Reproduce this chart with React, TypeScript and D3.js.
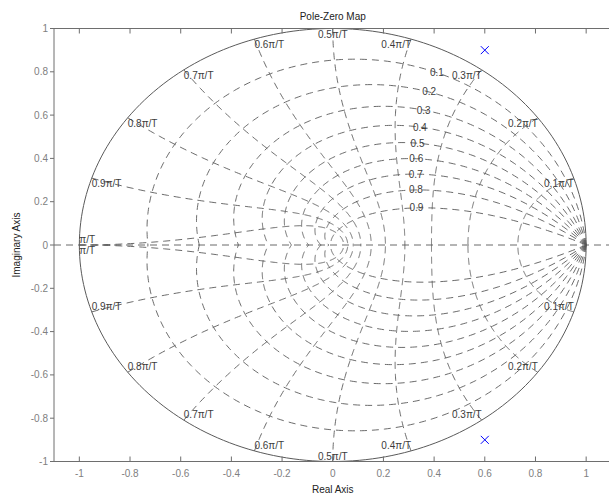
import React from 'react';
import * as d3 from 'd3';

// ---- data ----
const xTicks = [-1, -0.8, -0.6, -0.4, -0.2, 0, 0.2, 0.4, 0.6, 0.8, 1];
const yTicks = [-1, -0.8, -0.6, -0.4, -0.2, 0, 0.2, 0.4, 0.6, 0.8, 1];
const zetaValues = [0.1, 0.2, 0.3, 0.4, 0.5, 0.6, 0.7, 0.8, 0.9];
const wnFactors = [0.1, 0.2, 0.3, 0.4, 0.5, 0.6, 0.7, 0.8, 0.9, 1.0];
const wnLabels = ['0.1\u03c0/T', '0.2\u03c0/T', '0.3\u03c0/T', '0.4\u03c0/T', '0.5\u03c0/T', '0.6\u03c0/T', '0.7\u03c0/T', '0.8\u03c0/T', '0.9\u03c0/T', '\u03c0/T'];
const zetaLabelWn = 0.35; // wn (x pi) at which damping labels sit
const poleRe = [0.6, 0.6];
const poleIm = [0.9, -0.9];
const xDomain = [-1.1, 1.1];
const yDomain = [-1, 1];

const W = 609;
const H = 498;
const L = 54, R = 611.5, T = 28.5, B = 461.5;
const FONT = '"Liberation Sans", Arial, sans-serif';

export default function App() {
  const x = d3.scaleLinear().domain(xDomain).range([L, R]);
  const y = d3.scaleLinear().domain(yDomain).range([B, T]);
  const line = d3.line<[number, number]>().x(d => x(d[0])).y(d => y(d[1]));

  const N = 240;
  const circlePts: [number, number][] = d3.range(N + 1).map(i => {
    const a = (i / N) * 2 * Math.PI;
    return [Math.cos(a), Math.sin(a)];
  });

  const zetaCurves: [number, number][][] = [];
  zetaValues.forEach(z => {
    const m = z / Math.sqrt(1 - z * z);
    const up: [number, number][] = d3.range(N + 1).map(i => {
      const th = (i / N) * Math.PI;
      const r = Math.exp(-m * th);
      return [r * Math.cos(th), r * Math.sin(th)];
    });
    zetaCurves.push(up);
    zetaCurves.push(up.map(p => [p[0], -p[1]] as [number, number]));
  });

  const wnCurves: [number, number][][] = [];
  wnFactors.forEach(f => {
    const wn = f * Math.PI;
    const up: [number, number][] = d3.range(N + 1).map(i => {
      const ph = Math.PI / 2 + (i / N) * (Math.PI / 2);
      const sr = wn * Math.cos(ph);
      const si = wn * Math.sin(ph);
      const r = Math.exp(sr);
      return [r * Math.cos(si), r * Math.sin(si)];
    });
    wnCurves.push(up);
    wnCurves.push(up.map(p => [p[0], -p[1]] as [number, number]));
  });

  const zetaLabelPos = zetaValues.map(z => {
    const wn = zetaLabelWn * Math.PI;
    const sr = -z * wn;
    const si = wn * Math.sqrt(1 - z * z);
    const r = Math.exp(sr);
    return [r * Math.cos(si), r * Math.sin(si)];
  });

  const gridColor = '#5a5a5a';
  const axisColor = '#6e6e6e';
  const tickColor = '#808080';
  const labelColor = '#3c3c3c';

  const fmt = (v: number) => (Math.abs(v) < 1e-9 ? '0' : String(Math.round(v * 10) / 10));

  return (
    <svg width={W} height={H} style={{ position: 'absolute', left: 0, top: 0, background: '#fff' }} fontFamily={FONT}>
      <defs>
        <clipPath id="plotclip">
          <rect x={L} y={T} width={R - L} height={B - T} />
        </clipPath>
      </defs>
      <g clipPath="url(#plotclip)">
        <line x1={L} x2={R} y1={y(0)} y2={y(0)} stroke={gridColor} strokeWidth={0.9} strokeDasharray="7,5" />
        {zetaCurves.map((c, i) => (
          <path key={'z' + i} d={line(c) || ''} fill="none" stroke={gridColor} strokeWidth={0.9} strokeDasharray="7,5" />
        ))}
        {wnCurves.map((c, i) => (
          <path key={'w' + i} d={line(c) || ''} fill="none" stroke={gridColor} strokeWidth={0.9} strokeDasharray="7,5" />
        ))}
        <path d={line(circlePts) || ''} fill="none" stroke={gridColor} strokeWidth={1} />
        {zetaValues.map((z, i) => (
          <text key={'zl' + i} x={x(zetaLabelPos[i][0])} y={y(zetaLabelPos[i][1])} textAnchor="middle" dominantBaseline="central" fontSize={10} fill={labelColor}>
            {String(z)}
          </text>
        ))}
        {wnFactors.map((f, i) => {
          const a = f * Math.PI;
          const px = x(Math.cos(a));
          const isPi = i === wnFactors.length - 1;
          const anchor = f < 0.5 - 1e-9 ? 'end' : f > 0.5 + 1e-9 ? 'start' : 'middle';
          const topY = y(Math.sin(a));
          const botY = y(-Math.sin(a));
          return (
            <g key={'wl' + i}>
              <text x={px} y={isPi ? topY - 2 : topY + 9} textAnchor={anchor} fontSize={10} fill={labelColor}>{wnLabels[i]}</text>
              <text x={px} y={isPi ? botY + 9 : botY - 2} textAnchor={anchor} fontSize={10} fill={labelColor}>{wnLabels[i]}</text>
            </g>
          );
        })}
        {poleRe.map((re, i) => {
          const cx = x(re), cy = y(poleIm[i]);
          const s = 4;
          return (
            <g key={'p' + i} stroke="#0000ff" strokeWidth={1}>
              <line x1={cx - s} y1={cy - s} x2={cx + s} y2={cy + s} />
              <line x1={cx - s} y1={cy + s} x2={cx + s} y2={cy - s} />
            </g>
          );
        })}
      </g>

      <line x1={L} x2={W} y1={T} y2={T} stroke={axisColor} strokeWidth={1} />
      <line x1={L} x2={W} y1={B} y2={B} stroke={axisColor} strokeWidth={1} />
      <line x1={L} x2={L} y1={T} y2={B} stroke={axisColor} strokeWidth={1} />
      {xTicks.map((t, i) => (
        <g key={'xt' + i}>
          <line x1={x(t)} x2={x(t)} y1={B} y2={B - 5} stroke={axisColor} strokeWidth={1} />
          <line x1={x(t)} x2={x(t)} y1={T} y2={T + 5} stroke={axisColor} strokeWidth={1} />
          <text x={x(t)} y={B + 15} textAnchor="middle" fontSize={10} fill={tickColor}>{fmt(t)}</text>
        </g>
      ))}
      {yTicks.map((t, i) => (
        <g key={'yt' + i}>
          <line x1={L} x2={L - 4} y1={y(t)} y2={y(t)} stroke={axisColor} strokeWidth={1} />
          <text x={L - 6} y={y(t) + 3.5} textAnchor="end" fontSize={10} fill={tickColor}>{fmt(t)}</text>
        </g>
      ))}

      <text x={(L + R) / 2} y={19.5} textAnchor="middle" fontSize={10} fill="#222">Pole-Zero Map</text>
      <text x={(L + R) / 2} y={493} textAnchor="middle" fontSize={10} fill="#222">Real Axis</text>
      <text transform={`translate(19.5, ${y(0)}) rotate(-90)`} textAnchor="middle" fontSize={10} fill="#222">Imaginary Axis</text>
    </svg>
  );
}
